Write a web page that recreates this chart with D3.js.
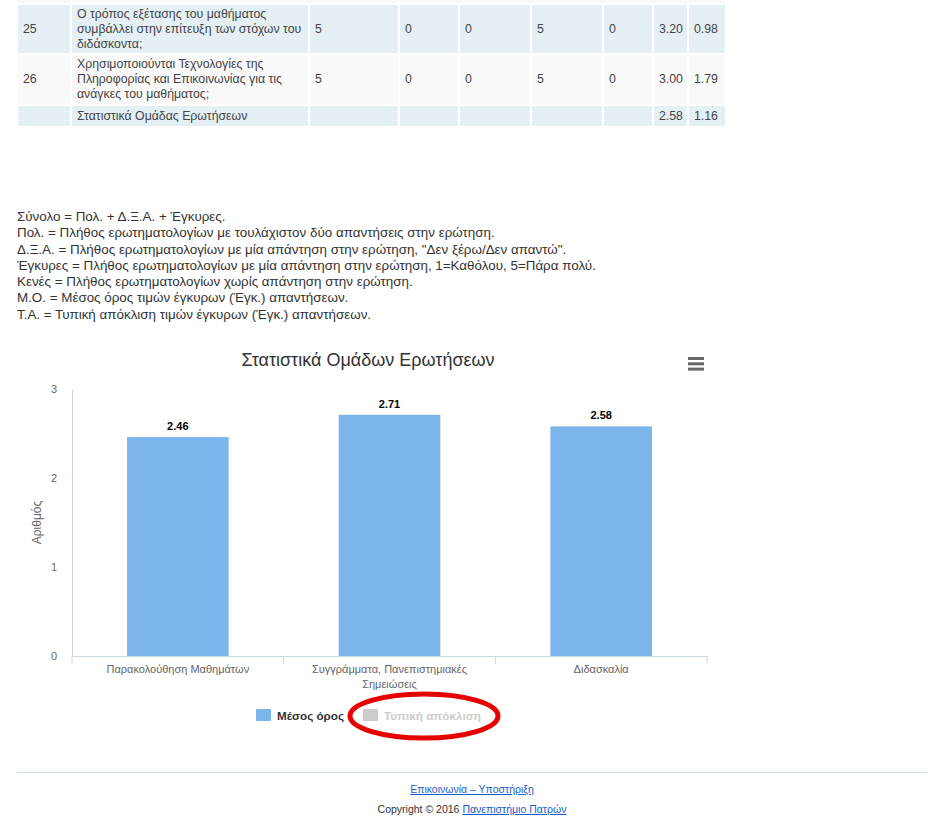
<!DOCTYPE html>
<html><head><meta charset="utf-8">
<script src="https://cdn.jsdelivr.net/npm/d3@7"></script>
<style>
body{margin:0;width:945px;height:830px;background:#fff;font-family:"Liberation Sans",Arial,Helvetica,sans-serif;position:relative;overflow:hidden}
#tbl{position:absolute;left:16px;top:-2px;border-collapse:collapse;table-layout:fixed;font-size:12.3px;color:#444}
#tbl td{border:2px solid #fff;padding:1px 2px 1px 5px;line-height:15px;vertical-align:middle;overflow:hidden}
#notes{position:absolute;left:17px;top:209px;font-size:13.4px;line-height:16.3px;color:#333}
#foot{position:absolute;left:17px;top:772px;width:910px;border-top:1px solid #c6e2ee;text-align:center;font-size:10.5px;color:#333}
#foot a{color:#1a5dc9;text-decoration:underline}
svg{position:absolute;left:0;top:0}
</style></head><body>
<table id="tbl"></table>
<div id="notes"></div>
<div id="foot"></div>
<script>
// ---- data ----
const colWidths = [54, 238, 90, 60, 72, 72, 50, 35, 38];
const tableRows = [
  ["", "", "", "", "", "", "", "", ""],
  ["25", "Ο τρόπος εξέτασης του μαθήματος συμβάλλει στην επίτευξη των στόχων του διδάσκοντα;", "5", "0", "0", "5", "0", "3.20", "0.98"],
  ["26", "Χρησιμοποιούνται Τεχνολογίες της Πληροφορίας και Επικοινωνίας για τις ανάγκες του μαθήματος;", "5", "0", "0", "5", "0", "3.00", "1.79"],
  ["", "Στατιστικά Ομάδας Ερωτήσεων", "", "", "", "", "", "2.58", "1.16"]
];
const rowColors = ["#f9f9f9", "#e5f0f5", "#f9f9f9", "#e5f0f5"];
const rowHeights = [3, 46, 47, 18];
const notes = [
  "Σύνολο = Πολ. + Δ.Ξ.Α. + Έγκυρες.",
  "Πολ. = Πλήθος ερωτηματολογίων με τουλάχιστον δύο απαντήσεις στην ερώτηση.",
  "Δ.Ξ.Α. = Πλήθος ερωτηματολογίων με μία απάντηση στην ερώτηση, \"Δεν ξέρω/Δεν απαντώ\".",
  "Έγκυρες = Πλήθος ερωτηματολογίων με μία απάντηση στην ερώτηση, 1=Καθόλου, 5=Πάρα πολύ.",
  "Κενές = Πλήθος ερωτηματολογίων χωρίς απάντηση στην ερώτηση.",
  "Μ.Ο. = Μέσος όρος τιμών έγκυρων (Έγκ.) απαντήσεων.",
  "Τ.Α. = Τυπική απόκλιση τιμών έγκυρων (Έγκ.) απαντήσεων."
];
const chartTitle = "Στατιστικά Ομάδων Ερωτήσεων";
const categories = ["Παρακολούθηση Μαθημάτων", "Συγγράμματα, Πανεπιστημιακές Σημειώσεις", "Διδασκαλία"];
const meanValues = [2.46, 2.71, 2.58];
const seriesNames = ["Μέσος όρος", "Τυπική απόκλιση"];
const seriesColors = ["#7cb5ec", "#cccccc"];
const seriesVisible = [true, false];
const yTicks = [0, 1, 2, 3];
const yTitle = "Αριθμός";

// ---- table ----
const tbl = d3.select("#tbl");
tbl.append("colgroup").selectAll("col").data(colWidths).join("col").style("width", d => d + "px");
tbl.selectAll("tr").data(tableRows).join("tr")
  .style("background", (d, i) => rowColors[i])
  .style("height", (d, i) => rowHeights[i] + "px")
  .each(function(d, i) {
    d3.select(this).selectAll("td").data(d).join("td").text(v => v)
      .style("padding", rowHeights[i] < 5 ? "0" : null)
      .style("height", rowHeights[i] + "px");
  });

d3.select("#notes").selectAll("div").data(notes).join("div").text(d => d);

const foot = d3.select("#foot");
foot.append("div").style("margin-top", "10px").append("a").attr("href", "#").text("Επικοινωνία – Υποστήριξη");
const cp = foot.append("div").style("margin-top", "8px");
cp.append("span").text("Copyright © 2016 ");
cp.append("a").attr("href", "#").text("Πανεπιστήμιο Πατρών");

// ---- chart ----
const svg = d3.select("body").append("svg").attr("width", 945).attr("height", 830)
  .style("font-family", '"Liberation Sans", Arial, Helvetica, sans-serif');
const L = 72, R = 707, T = 389, B = 656;
const x = d3.scaleBand().domain(categories).range([L, R]).padding(0);
const y = d3.scaleLinear().domain([0, 3]).range([B, T]);
const barW = x.bandwidth() * 0.48;

svg.append("text").attr("x", 368).attr("y", 366).attr("text-anchor", "middle")
  .attr("font-size", 18).attr("fill", "#333").text(chartTitle);

// menu icon
svg.append("g").selectAll("line").data([0, 1, 2]).join("line")
  .attr("x1", 688).attr("x2", 704)
  .attr("y1", d => 358.5 + d * 5.3).attr("y2", d => 358.5 + d * 5.3)
  .attr("stroke", "#666").attr("stroke-width", 3);

// y axis
const gy = svg.append("g").attr("transform", `translate(${L},0)`)
  .call(d3.axisLeft(y).tickValues(yTicks).tickSize(0).tickPadding(15).tickFormat(d3.format("d")));
gy.select(".domain").attr("stroke", "#ccd6eb");
gy.selectAll("text").attr("font-size", 11).attr("fill", "#666").attr("font-family", null);

svg.append("text").attr("transform", `translate(41,${(T + B) / 2}) rotate(-90)`)
  .attr("text-anchor", "middle").attr("font-size", 12).attr("fill", "#666").text(yTitle);

// x axis
const gx = svg.append("g").attr("transform", `translate(0,${B})`)
  .call(d3.axisBottom(x).tickSize(0).tickPadding(17).tickSizeOuter(0));
gx.select(".domain").attr("stroke", "#ccd6eb");
gx.selectAll("text").attr("font-size", 11).attr("fill", "#666").attr("font-family", null)
  .each(function(d) {
    const t = d3.select(this);
    const words = d.split(" ");
    const maxW = x.bandwidth() - 20;
    t.text(null);
    let line = [], tspan = t.append("tspan").attr("x", 0).attr("dy", 0);
    words.forEach(w => {
      line.push(w);
      tspan.text(line.join(" "));
      if (tspan.node().getComputedTextLength() > maxW && line.length > 1) {
        line.pop(); tspan.text(line.join(" "));
        line = [w];
        tspan = t.append("tspan").attr("x", 0).attr("dy", "15px").text(w);
      }
    });
  });
const boundaries = categories.map(c => x(c)).concat([x.range()[1]]);
gx.selectAll("line.bt").data(boundaries).join("line").attr("class", "bt")
  .attr("x1", d => d).attr("x2", d => d).attr("y1", 0).attr("y2", 8).attr("stroke", "#ccd6eb");

// bars
svg.append("g").selectAll("rect").data(meanValues).join("rect")
  .attr("x", (d, i) => x(categories[i]) + (x.bandwidth() - barW) / 2)
  .attr("width", barW)
  .attr("y", d => y(d)).attr("height", d => B - y(d))
  .attr("fill", seriesColors[0]);

svg.append("g").selectAll("text").data(meanValues).join("text")
  .attr("x", (d, i) => x(categories[i]) + x.bandwidth() / 2)
  .attr("y", d => y(d) - 7)
  .attr("text-anchor", "middle").attr("font-size", 11).attr("font-weight", "bold")
  .attr("fill", "#000").attr("stroke", "#fff").attr("stroke-width", 2).attr("paint-order", "stroke")
  .text(d => d.toFixed(2));

// legend
const legendX = [256, 363];
const lg = svg.append("g").selectAll("g").data(seriesNames).join("g")
  .attr("transform", (d, i) => `translate(${legendX[i]},709)`);
lg.append("rect").attr("width", 15).attr("height", 12).attr("rx", 1)
  .attr("fill", (d, i) => seriesVisible[i] ? seriesColors[i] : "#cccccc");
lg.append("text").attr("x", 21).attr("y", 11).attr("font-size", 11.7).attr("font-weight", "bold")
  .attr("fill", (d, i) => seriesVisible[i] ? "#333" : "#cccccc").text(d => d);

// red annotation ellipse
svg.append("ellipse").attr("cx", 424).attr("cy", 716).attr("rx", 74).attr("ry", 22)
  .attr("fill", "none").attr("stroke", "#e60000").attr("stroke-width", 5);
</script>
</body></html>
